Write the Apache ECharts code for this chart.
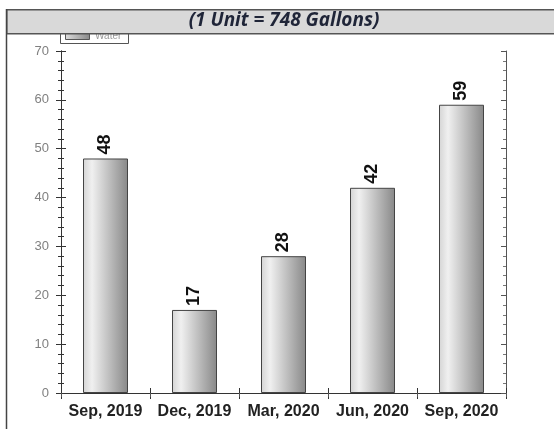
<!DOCTYPE html>
<html><head><meta charset="utf-8">
<script src="https://cdn.jsdelivr.net/npm/echarts@6/dist/echarts.min.js"></script>
<style>html,body{margin:0;padding:0;background:#fff}#c{width:554px;height:429px}</style>
</head><body><div id="c"></div>
<script>
const categories = ['Sep, 2019', 'Dec, 2019', 'Mar, 2020', 'Jun, 2020', 'Sep, 2020'];
const waterUnits = [48, 17, 28, 42, 59];
const yTicks = [0, 10, 20, 30, 40, 50, 60, 70];
const titleText = '(1 Unit = 748 Gallons)';
const seriesName = 'Water';

const chart = echarts.init(document.getElementById('c'), null, {renderer: 'canvas'});
const barGrad = new echarts.graphic.LinearGradient(0, 0, 1, 0, [
  {offset: 0, color: '#d4d4d4'},
  {offset: 0.2, color: '#f0f0f0'},
  {offset: 1, color: '#888888'}
]);
const axisLine = {show: true, lineStyle: {color: '#333', width: 1}};
const yMin = yTicks[0], yMax = yTicks[yTicks.length - 1];
const yBase = {type: 'value', min: yMin, max: yMax, interval: 10, splitLine: {show: false}};
chart.setOption({
  animation: false,
  grid: {left: 61, right: 48, top: 51, bottom: 36},
  xAxis: [
    {type: 'category', data: categories, position: 'bottom', axisLine,
     axisTick: {show: true, length: 6, lineStyle: {color: '#333'}},
     axisLabel: {interval: 0, color: '#222', fontWeight: 'bold', fontSize: 16, fontFamily: 'Liberation Sans, Arial', margin: 11}},
    {type: 'category', data: categories, position: 'bottom', axisLine,
     axisTick: {show: true, inside: true, length: 5, lineStyle: {color: '#333'}}, axisLabel: {show: false}},
    {type: 'category', data: categories, position: 'top', axisLine,
     axisTick: {show: true, inside: true, length: 4, lineStyle: {color: '#555'}}, axisLabel: {show: false}}
  ],
  yAxis: [
    Object.assign({}, yBase, {position: 'left', axisLine,
     axisTick: {show: true, length: 5, lineStyle: {color: '#333'}},
     minorTick: {show: true, splitNumber: 5, length: 3, lineStyle: {color: '#333'}},
     axisLabel: {color: '#808080', fontSize: 13, fontFamily: 'Liberation Sans, Arial', margin: 12}}),
    Object.assign({}, yBase, {position: 'left', axisLine,
     axisTick: {show: true, inside: true, length: 5, lineStyle: {color: '#333'}},
     minorTick: {show: true, splitNumber: 5, length: 3, lineStyle: {color: '#333'}},
     axisLabel: {show: false}}),
    Object.assign({}, yBase, {position: 'right', axisLine: {show: true, lineStyle: {color: '#555'}},
     axisTick: {show: true, inside: true, length: 5, lineStyle: {color: '#555'}},
     minorTick: {show: true, splitNumber: 5, length: 3, lineStyle: {color: '#777'}},
     axisLabel: {show: false}})
  ],
  series: [{
    type: 'bar', name: seriesName, data: waterUnits, barWidth: 45,
    itemStyle: {color: barGrad, borderColor: '#444', borderWidth: 1},
    label: {show: true, position: 'top', rotate: 90, align: 'left', verticalAlign: 'middle', distance: 4,
      color: '#111', fontWeight: 'bold', fontSize: 18, fontFamily: 'Liberation Sans, Arial'}
  }],
  graphic: [
    {type: 'rect', left: 60, top: 29, shape: {width: 68, height: 14}, z: 1,
     style: {fill: '#fff', stroke: '#555', lineWidth: 1}},
    {type: 'rect', left: 65, top: 33, shape: {width: 24, height: 6}, z: 2,
     style: {fill: new echarts.graphic.LinearGradient(0, 0, 1, 0, [{offset: 0, color: '#ddd'}, {offset: 1, color: '#888'}]), stroke: '#555', lineWidth: 1}},
    {type: 'text', left: 95, top: 31, z: 2, style: {text: seriesName, fill: '#999', font: '10px Liberation Sans'}},
    {type: 'rect', left: 6, top: 9, shape: {width: 560, height: 24}, z: 10,
     style: {fill: '#d9d9d9', stroke: '#555', lineWidth: 1.5}},
    {type: 'text', x: 284, y: 21, z: 11,
     style: {text: titleText, fill: '#1f2538', font: 'italic bold 19px "Open Sans"', align: 'center', verticalAlign: 'middle'}},
    {type: 'line', shape: {x1: 6.5, y1: 9, x2: 6.5, y2: 429}, z: 10, style: {stroke: '#444', lineWidth: 1.5}}
  ]
});
</script></body></html>
